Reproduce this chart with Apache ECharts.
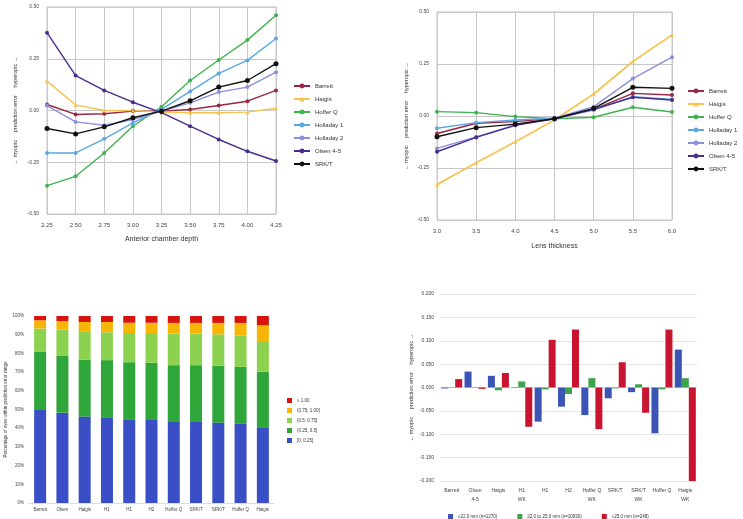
<!DOCTYPE html>
<html><head><meta charset="utf-8">
<script src="https://cdn.jsdelivr.net/npm/echarts@6/dist/echarts.min.js"></script>
<style>html,body{margin:0;padding:0;background:#fff}#c{width:743px;height:519px}</style>
</head><body><div id="c"></div>
<script>
// ---------- Data ----------
const formulas = ['Barrett','Haigis','Hoffer Q','Holladay 1','Holladay 2','Olsen 4-5','SRK/T'];
const formulaColors = ['#9b2640','#f5c453','#3fb34f','#5aa8e4','#8c8fdc','#4a2c8c','#111111'];

const acdX = [2.25,2.50,2.75,3.00,3.25,3.50,3.75,4.00,4.25];
const acdBarrett  = [0.029,-0.019,-0.016,-0.003,-0.003,0.005,0.024,0.045,0.097];
const acdHaigis   = [0.142,0.027,0.000,0.000,-0.008,-0.011,-0.011,-0.008,0.011];
const acdHofferQ  = [-0.363,-0.318,-0.205,-0.076,0.018,0.145,0.244,0.340,0.460];
const acdHolladay1= [-0.205,-0.205,-0.137,-0.060,0.005,0.092,0.179,0.242,0.348];
const acdHolladay2= [0.024,-0.055,-0.071,-0.044,-0.003,0.037,0.089,0.113,0.185];
const acdOlsen    = [0.376,0.169,0.097,0.040,-0.010,-0.076,-0.140,-0.197,-0.244];
const acdSRKT     = [-0.087,-0.113,-0.079,-0.035,-0.003,0.047,0.113,0.145,0.226];

const ltX = [3.0,3.5,4.0,4.5,5.0,5.5,6.0];
const ltBarrett   = [-0.084,-0.035,-0.027,-0.011,0.032,0.109,0.101];
const ltHaigis    = [-0.330,-0.225,-0.124,-0.019,0.106,0.262,0.390];
const ltHofferQ   = [0.021,0.016,-0.003,-0.013,-0.006,0.042,0.019];
const ltHolladay1 = [-0.059,-0.032,-0.019,-0.011,0.029,0.093,0.080];
const ltHolladay2 = [-0.156,-0.100,-0.043,-0.011,0.045,0.180,0.283];
const ltOlsen     = [-0.172,-0.103,-0.045,-0.013,0.032,0.090,0.077];
const ltSRKT      = [-0.100,-0.056,-0.039,-0.013,0.037,0.138,0.133];

const stackCats = ['Barrett','Olsen','Haigis','H1','H1','H2','Hoffer Q','SRK/T','SRK/T','Hoffer Q','Haigis'];
const rangeNames = ['[0, 0.25]','(0.25, 0.5]','(0.5, 0.75]','(0.75, 1.00]','≥ 1.00'];
const rangeColors = ['#3a4fc6','#2fa63a','#8dd24e','#f7b606','#d8140f'];
const r0    = [49.7,48.3,46.2,45.8,44.8,44.4,43.3,43.3,43.0,42.3,40.5];
const r025  = [31.1,30.6,30.5,30.6,30.5,30.6,30.4,30.4,30.5,30.5,29.7];
const r05   = [12.5,13.8,14.8,14.9,15.6,15.9,16.9,16.9,16.7,16.7,15.9];
const r075  = [4.4,4.6,5.3,5.5,5.5,5.5,5.7,5.7,6.1,6.8,8.9];
const r1    = [2.3,2.7,3.2,3.2,3.6,3.6,3.7,3.7,3.7,3.7,5.0];

const alCats = ['Barrett','Olsen\n4-5','Haigis','H1\nWK','H1','H2','Hoffer Q\nWK','SRK/T','SRK/T\nWK','Hoffer Q','Haigis\nWK'];
const alNames = ['≤22.0 mm (n=1270)','22.0 to 25.0 mm (n=10930)','≥25.0 mm (n=248)'];
const alColors = ['#3a55b4','#3da24c','#c8142e'];
const alShort  = [-0.002,0.034,0.025,-0.001,-0.073,-0.041,-0.059,-0.023,-0.010,-0.098,0.081];
const alMedium = [-0.001,-0.001,-0.006,0.013,-0.004,-0.014,0.020,-0.002,0.007,-0.004,0.020];
const alLong   = [0.018,-0.003,0.031,-0.084,0.102,0.124,-0.089,0.054,-0.054,0.124,-0.200];

const yTitle = '← myopic     prediction error     hyperopic →';
// ---------- Build ----------
const font = 'Liberation Sans';
const txt = '#444';
const acdData = [acdBarrett,acdHaigis,acdHofferQ,acdHolladay1,acdHolladay2,acdOlsen,acdSRKT];
const ltData  = [ltBarrett,ltHaigis,ltHofferQ,ltHolladay1,ltHolladay2,ltOlsen,ltSRKT];
const symbols = ['circle','triangle','circle','circle','circle','circle','circle'];

const series = [];
formulas.forEach((n,i)=>{
  series.push({type:'line',name:n,xAxisIndex:0,yAxisIndex:0,data:acdX.map((x,j)=>[x,acdData[i][j]]),
    symbol:symbols[i],symbolSize:i===6?5:4,color:formulaColors[i],lineStyle:{width:1.4},z:i===6?5:3});
});
formulas.forEach((n,i)=>{
  series.push({type:'line',name:n,xAxisIndex:1,yAxisIndex:1,data:ltX.map((x,j)=>[x,ltData[i][j]]),
    symbol:symbols[i],symbolSize:i===6?5:4,color:formulaColors[i],lineStyle:{width:i===1?1.8:1.4},z:i===6?5:3});
});
const rData = [r0,r025,r05,r075,r1];
rangeNames.forEach((n,i)=>{
  series.push({type:'bar',name:n,xAxisIndex:2,yAxisIndex:2,stack:'p',data:rData[i],barWidth:12,color:rangeColors[i]});
});
const alData = [alShort,alMedium,alLong];
alNames.forEach((n,i)=>{
  series.push({type:'bar',name:n,xAxisIndex:3,yAxisIndex:3,data:alData[i],barWidth:7,barGap:'0%',color:alColors[i]});
});

const gridLine = {show:true,lineStyle:{color:'#c8c8c8',width:1}};
const option = {
  animation:false,
  textStyle:{fontFamily:font},
  grid:[
    {left:47,top:7,width:229,height:207,show:true,borderColor:'#c8c8c8',borderWidth:1},
    {left:437,top:12,width:235,height:208,show:true,borderColor:'#c8c8c8',borderWidth:1},
    {left:29,top:316,width:245,height:187},
    {left:440,top:294,width:257,height:187}
  ],
  xAxis:[
    {type:'value',gridIndex:0,min:2.25,max:4.25,interval:0.25,splitLine:gridLine,
     axisLine:{show:false},axisTick:{show:false},
     axisLabel:{fontSize:6,color:txt,margin:8,formatter:v=>v.toFixed(2)},
     name:'Anterior chamber depth',nameLocation:'middle',nameGap:22,nameTextStyle:{fontSize:7,color:'#333'}},
    {type:'value',gridIndex:1,min:3.0,max:6.0,interval:0.5,splitLine:gridLine,
     axisLine:{show:false},axisTick:{show:false},
     axisLabel:{fontSize:6,color:txt,margin:8,formatter:v=>v.toFixed(1)},
     name:'Lens thickness',nameLocation:'middle',nameGap:23,nameTextStyle:{fontSize:7,color:'#333'}},
    {type:'category',gridIndex:2,data:stackCats,
     axisLine:{lineStyle:{color:'#ddd'}},axisTick:{show:false},
     axisLabel:{fontSize:4.5,color:txt,margin:4,interval:0}},
    {type:'category',gridIndex:3,data:alCats,
     axisLine:{show:false},axisTick:{show:false},
     axisLabel:{fontSize:5,color:txt,margin:5,interval:0,lineHeight:9}}
  ],
  yAxis:[
    {type:'value',gridIndex:0,min:-0.5,max:0.5,interval:0.25,splitLine:gridLine,
     axisLine:{show:false},axisTick:{show:false},
     axisLabel:{fontSize:5,color:txt,margin:8,formatter:v=>v.toFixed(2)},
     name:yTitle,nameLocation:'middle',nameGap:29,nameRotate:90,nameTextStyle:{fontSize:5.5,color:'#333'}},
    {type:'value',gridIndex:1,min:-0.5,max:0.5,interval:0.25,splitLine:gridLine,
     axisLine:{show:false},axisTick:{show:false},
     axisLabel:{fontSize:5,color:txt,margin:8,formatter:v=>v.toFixed(2)},
     name:yTitle,nameLocation:'middle',nameGap:28,nameRotate:90,nameTextStyle:{fontSize:5.5,color:'#333'}},
    {type:'value',gridIndex:2,min:0,max:100,interval:10,splitLine:{show:false},
     axisLine:{show:false},axisTick:{show:false},
     axisLabel:{fontSize:4.5,color:txt,margin:5,formatter:v=>v+'%'},
     name:'Percentage of eyes within prediction error range',nameLocation:'middle',nameGap:18,nameRotate:90,
     nameTextStyle:{fontSize:4.5,color:'#333'}},
    {type:'value',gridIndex:3,min:-0.2,max:0.2,interval:0.05,splitLine:{show:true,lineStyle:{color:'#e4e4e4'}},
     axisLine:{show:false},axisTick:{show:false},
     axisLabel:{fontSize:5,color:txt,margin:6,formatter:v=>v.toFixed(3)},
     name:yTitle,nameLocation:'middle',nameGap:26,nameRotate:90,nameTextStyle:{fontSize:5.5,color:'#333'}}
  ],
  legend:[
    {data:formulas,orient:'vertical',left:288,top:78,itemWidth:16,itemHeight:6,itemGap:7,
     textStyle:{fontSize:6,color:'#333'}},
    {data:formulas,orient:'vertical',left:682,top:83,itemWidth:16,itemHeight:6,itemGap:7,
     textStyle:{fontSize:6,color:'#333'}},
    {data:rangeNames.slice().reverse(),orient:'vertical',left:282,top:393,itemWidth:5,itemHeight:5,itemGap:5,
     icon:'rect',textStyle:{fontSize:4.5,color:'#333'}},
    {data:alNames,orient:'horizontal',left:443,top:509,itemWidth:5,itemHeight:5,itemGap:20,
     icon:'rect',textStyle:{fontSize:4.5,color:'#333'}}
  ],
  series:series
};
const chart = echarts.init(document.getElementById('c'),null,{renderer:'canvas'});
chart.setOption(option);
</script></body></html>
